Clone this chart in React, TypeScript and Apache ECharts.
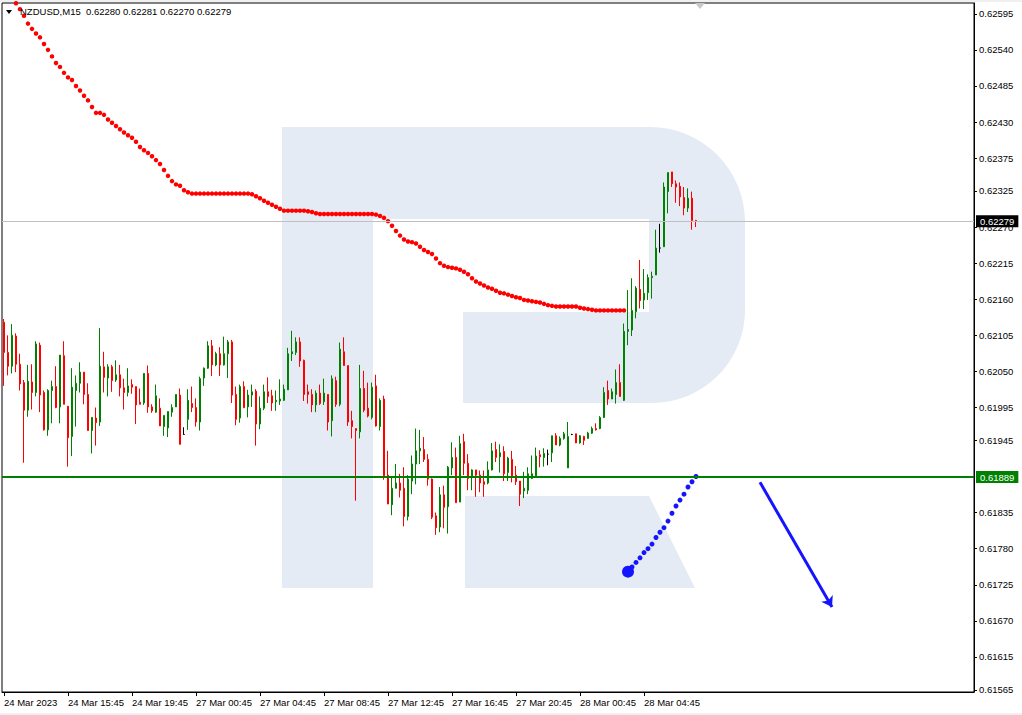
import React, { useEffect, useRef } from 'react';
import * as echarts from 'echarts';

// ---------- data ----------
const symbolName = 'NZDUSD';
const timeframe = 'M15';

// one label every 16 bars (4 hours of M15 bars)
const barsPerLabel = 16;
const xTickLabels = [
  '24 Mar 2023', '24 Mar 15:45', '24 Mar 19:45', '27 Mar 00:45', '27 Mar 04:45',
  '27 Mar 08:45', '27 Mar 12:45', '27 Mar 16:45', '27 Mar 20:45', '28 Mar 00:45', '28 Mar 04:45',
];
const totalSlots = 243; // bar slots visible on the time axis (incl. empty right shift)

const yTicks = [
  0.62595, 0.6254, 0.62485, 0.6243, 0.62375, 0.62325, 0.6227, 0.62215, 0.6216, 0.62105,
  0.6205, 0.61995, 0.61945, 0.61835, 0.6178, 0.61725, 0.6167, 0.61615, 0.61565,
];
const yMin = 0.615616;
const yMax = 0.626114;

const opens = [
  0.62125, 0.62079, 0.62058, 0.62104, 0.62061, 0.62033, 0.61991, 0.62034, 0.62018, 0.6209,
  0.62018, 0.61961, 0.62021, 0.62027, 0.61996, 0.62074, 0.61997, 0.61951, 0.62021, 0.62032,
  0.62049, 0.62015, 0.6196, 0.61979, 0.61973, 0.62057, 0.6204, 0.62057, 0.62037, 0.62045,
  0.62025, 0.62018, 0.6203, 0.62027, 0.62003, 0.62002, 0.62047, 0.61996, 0.61988, 0.61994,
  0.61966, 0.61964, 0.61988, 0.61996, 0.62014, 0.61954, 0.61977, 0.62001, 0.61995, 0.61973,
  0.6204, 0.62055, 0.62089, 0.6206, 0.62077, 0.6206, 0.62077, 0.62095, 0.62015, 0.61979,
  0.62027, 0.61996, 0.62014, 0.6202, 0.6197, 0.61994, 0.62019, 0.62013, 0.62004, 0.62005,
  0.62006, 0.62022, 0.62077, 0.62079, 0.62095, 0.62067, 0.62019, 0.62015, 0.61999, 0.62017,
  0.62004, 0.62015, 0.61975, 0.62036, 0.62, 0.6208, 0.62059, 0.61975, 0.61963, 0.61958,
  0.62024, 0.61994, 0.6198, 0.62028, 0.61966, 0.62008, 0.61892, 0.61847, 0.61872, 0.6188,
  0.61872, 0.61829, 0.61883, 0.61909, 0.61929, 0.61931, 0.61916, 0.61886, 0.6183, 0.61813,
  0.61862, 0.61844, 0.61903, 0.61919, 0.61851, 0.61943, 0.6191, 0.6189, 0.619, 0.61892,
  0.61882, 0.6188, 0.619, 0.61931, 0.6192, 0.61928, 0.61896, 0.61916, 0.61892, 0.61883,
  0.61868, 0.61869, 0.61887, 0.61891, 0.61923, 0.61919, 0.61924, 0.61926, 0.61952, 0.61938,
  0.61948, 0.61903, 0.61954, 0.61955, 0.61941, 0.61951, 0.61948, 0.61956, 0.61963, 0.61963,
  0.6198, 0.62021, 0.62008, 0.62015, 0.62033, 0.62006, 0.62111, 0.62113, 0.62141, 0.62175,
  0.62159, 0.6217, 0.62193, 0.62197, 0.62238, 0.6224, 0.62324, 0.62354, 0.62336, 0.62332,
  0.62315, 0.62299, 0.62314, 0.6228,
];
const closes = [
  0.62079, 0.62058, 0.62105, 0.62061, 0.62031, 0.61991, 0.62035, 0.62018, 0.62092, 0.62014,
  0.61961, 0.62021, 0.62027, 0.61995, 0.62075, 0.62, 0.61949, 0.62026, 0.62032, 0.62049,
  0.62015, 0.6196, 0.6198, 0.61972, 0.62058, 0.62041, 0.62057, 0.62036, 0.62045, 0.62025,
  0.62018, 0.62028, 0.62026, 0.61999, 0.62, 0.62047, 0.61996, 0.6199, 0.62013, 0.61967,
  0.61983, 0.61989, 0.61995, 0.62015, 0.61939, 0.61954, 0.62006, 0.61995, 0.61973, 0.62039,
  0.62055, 0.62089, 0.6206, 0.62077, 0.6206, 0.62077, 0.62095, 0.62014, 0.61977, 0.62027,
  0.61995, 0.62014, 0.62019, 0.6197, 0.61994, 0.62019, 0.62012, 0.62002, 0.62006, 0.62008,
  0.62023, 0.62077, 0.6208, 0.62095, 0.62066, 0.62015, 0.62015, 0.61999, 0.62017, 0.62001,
  0.62017, 0.61973, 0.62039, 0.62, 0.62084, 0.62059, 0.61973, 0.61966, 0.6196, 0.62024,
  0.61991, 0.61982, 0.62026, 0.61967, 0.62006, 0.61891, 0.61848, 0.61872, 0.6188, 0.61869,
  0.61829, 0.61886, 0.61909, 0.61929, 0.61933, 0.61916, 0.61886, 0.61828, 0.61812, 0.61862,
  0.61843, 0.61904, 0.61919, 0.6185, 0.6194, 0.6191, 0.61887, 0.619, 0.61892, 0.6188,
  0.61878, 0.619, 0.61929, 0.61919, 0.61926, 0.61894, 0.61918, 0.61891, 0.61882, 0.61863,
  0.61872, 0.61894, 0.61894, 0.61921, 0.6192, 0.61925, 0.61924, 0.61952, 0.61938, 0.61948,
  0.61955, 0.61951, 0.61954, 0.61941, 0.61952, 0.61945, 0.61956, 0.61963, 0.61961, 0.6198,
  0.62018, 0.62008, 0.62019, 0.62033, 0.62012, 0.62111, 0.62114, 0.62143, 0.62177, 0.62158,
  0.62169, 0.62193, 0.62195, 0.62238, 0.62238, 0.62331, 0.62353, 0.62336, 0.62331, 0.62316,
  0.62299, 0.62314, 0.6228, 0.62279,
];
const lows = [
  0.62028, 0.62044, 0.62047, 0.62049, 0.62021, 0.61911, 0.61981, 0.61992, 0.62012, 0.61988,
  0.6196, 0.61952, 0.61971, 0.61994, 0.61971, 0.62, 0.61905, 0.61921, 0.61966, 0.62018,
  0.62, 0.6196, 0.61925, 0.61937, 0.61967, 0.62018, 0.62012, 0.62019, 0.62034, 0.62012,
  0.61992, 0.62012, 0.62016, 0.6197, 0.62, 0.61999, 0.61987, 0.61987, 0.61987, 0.61967,
  0.61952, 0.6195, 0.61981, 0.61996, 0.61939, 0.61954, 0.61961, 0.61988, 0.61966, 0.6196,
  0.62028, 0.62054, 0.62043, 0.62058, 0.62043, 0.62059, 0.6204, 0.62002, 0.61968, 0.61972,
  0.61994, 0.6198, 0.61996, 0.61937, 0.61962, 0.61991, 0.62002, 0.6199, 0.6199, 0.61999,
  0.62005, 0.62022, 0.62066, 0.62075, 0.62057, 0.62005, 0.62001, 0.61988, 0.61988, 0.61999,
  0.61999, 0.6196, 0.61951, 0.61996, 0.61997, 0.62059, 0.61967, 0.61948, 0.61853, 0.61948,
  0.61988, 0.6198, 0.61977, 0.61966, 0.6196, 0.61885, 0.61848, 0.61831, 0.61872, 0.61858,
  0.61814, 0.61823, 0.61863, 0.61878, 0.61909, 0.61912, 0.61876, 0.61825, 0.61801, 0.61805,
  0.61811, 0.61803, 0.61892, 0.6185, 0.61851, 0.61892, 0.61869, 0.61869, 0.61859, 0.61866,
  0.61859, 0.61878, 0.61899, 0.61912, 0.61896, 0.61883, 0.61883, 0.61881, 0.61877, 0.61845,
  0.61857, 0.61863, 0.61886, 0.6189, 0.61904, 0.61905, 0.61907, 0.61912, 0.61938, 0.61936,
  0.61946, 0.61903, 0.61953, 0.61941, 0.6194, 0.61938, 0.61948, 0.61955, 0.6196, 0.61962,
  0.61979, 0.61999, 0.62008, 0.62001, 0.62012, 0.62005, 0.6209, 0.62104, 0.62131, 0.62146,
  0.62145, 0.62159, 0.62161, 0.62197, 0.62231, 0.6224, 0.62291, 0.62331, 0.62307, 0.62302,
  0.62288, 0.62293, 0.62266, 0.6227,
];
const highs = [
  0.6213, 0.62105, 0.62122, 0.62108, 0.62077, 0.62037, 0.6206, 0.62061, 0.62096, 0.62094,
  0.62021, 0.62023, 0.62036, 0.62058, 0.62075, 0.62096, 0.61997, 0.62055, 0.62044, 0.62064,
  0.62049, 0.62032, 0.6198, 0.61995, 0.62116, 0.6208, 0.62061, 0.6206, 0.62067, 0.6206,
  0.62039, 0.62055, 0.62038, 0.62027, 0.62024, 0.62047, 0.62059, 0.62, 0.6203, 0.62009,
  0.61983, 0.61989, 0.62, 0.62015, 0.62024, 0.61965, 0.62023, 0.62027, 0.62009, 0.62042,
  0.62056, 0.62096, 0.62098, 0.6208, 0.62087, 0.62103, 0.62098, 0.62098, 0.62027, 0.6203,
  0.62035, 0.62022, 0.6203, 0.62023, 0.62012, 0.6203, 0.62041, 0.62022, 0.62021, 0.62038,
  0.6203, 0.62086, 0.62112, 0.62102, 0.62102, 0.62068, 0.6203, 0.62023, 0.62021, 0.6203,
  0.62039, 0.62015, 0.62044, 0.62042, 0.62094, 0.62102, 0.62059, 0.6199, 0.61963, 0.6206,
  0.62051, 0.62033, 0.62033, 0.62045, 0.62009, 0.62013, 0.61929, 0.6189, 0.61909, 0.61894,
  0.61904, 0.61892, 0.61922, 0.61963, 0.61961, 0.6195, 0.61924, 0.61887, 0.61835, 0.61874,
  0.61876, 0.61906, 0.61942, 0.61934, 0.61952, 0.61955, 0.61924, 0.61901, 0.619, 0.61899,
  0.61899, 0.61913, 0.61941, 0.61943, 0.61939, 0.61936, 0.6192, 0.61929, 0.61906, 0.61883,
  0.61897, 0.61904, 0.61922, 0.61934, 0.6193, 0.61933, 0.61931, 0.61952, 0.61956, 0.61951,
  0.61958, 0.61973, 0.61955, 0.61955, 0.61953, 0.61952, 0.61958, 0.61966, 0.61971, 0.61982,
  0.62026, 0.62036, 0.62024, 0.62053, 0.62061, 0.62123, 0.62174, 0.62192, 0.6218, 0.6222,
  0.62206, 0.62198, 0.62202, 0.62266, 0.62275, 0.62338, 0.62353, 0.62354, 0.62341, 0.62338,
  0.62331, 0.62329, 0.62324, 0.62281,
];

// red dotted moving average (ends before the last bars)
const maValues = [
  0.62637, 0.62628, 0.6262, 0.62611, 0.62602, 0.62592, 0.6258, 0.62572, 0.62565, 0.62559,
  0.62549, 0.6254, 0.6253, 0.6252, 0.62514, 0.62505, 0.62498, 0.62494, 0.62485, 0.62478,
  0.6247, 0.62463, 0.62453, 0.62444, 0.62444, 0.62441, 0.62434, 0.62429, 0.62424, 0.62419,
  0.62414, 0.6241, 0.62406, 0.624, 0.62392, 0.62387, 0.62383, 0.62378, 0.62372, 0.62366,
  0.62357, 0.62348, 0.6234, 0.62335, 0.62333, 0.62326, 0.62323, 0.62321, 0.62321, 0.62321,
  0.62321, 0.62321, 0.62321, 0.62321, 0.62321, 0.62321, 0.62321, 0.62321, 0.62321, 0.62321,
  0.62321, 0.62321, 0.6232, 0.62317, 0.62314, 0.6231, 0.62307, 0.62304, 0.62301, 0.62298,
  0.62295, 0.62295, 0.62295, 0.62295, 0.62295, 0.62295, 0.62294, 0.62293, 0.62291, 0.6229,
  0.6229, 0.6229, 0.6229, 0.6229, 0.6229, 0.6229, 0.6229, 0.6229, 0.6229, 0.6229,
  0.6229, 0.6229, 0.6229, 0.62289, 0.62287, 0.62284, 0.62279, 0.62272, 0.62264, 0.62257,
  0.62251, 0.62248, 0.62247, 0.62245, 0.6224, 0.62235, 0.62232, 0.62229, 0.62222, 0.62215,
  0.62211, 0.62209, 0.62208, 0.62207, 0.62205, 0.62202, 0.62198, 0.62192, 0.62187, 0.62184,
  0.62181, 0.62178, 0.62176, 0.62173, 0.6217, 0.62169, 0.62167, 0.62165, 0.62163, 0.62162,
  0.62159, 0.62158, 0.62157, 0.62156, 0.62155, 0.62153, 0.62151, 0.6215, 0.62149, 0.62149,
  0.62149, 0.62149, 0.62149, 0.62149, 0.62147, 0.62146, 0.62145, 0.62144, 0.62143, 0.62143,
  0.62143, 0.62143, 0.62143, 0.62143, 0.62143, 0.62143,
];

// blue dotted projection (starts at bar 156)
const projectionStart = 156;
const projectionValues = [
  0.61745, 0.61752, 0.61759, 0.61766, 0.61774, 0.6178, 0.61787, 0.61797, 0.61805, 0.61812,
  0.61822, 0.61834, 0.61845, 0.61854, 0.61863, 0.61874, 0.61882, 0.6189,
];

// forecast arrow: [bar index, price]
const arrowFrom = [189, 0.61881];
const arrowTo = [207, 0.61691];

const supportLevel = 0.61889;
const bidPrice = 0.62279;

// ---------- decoration ----------
const FONT = "'Liberation Sans', Arial, sans-serif";
const LOGO_COLOR = '#e4ebf4';
const LOGO_PATH =
  'M282 127 L650 127 A95 95 0 0 1 745 222 L745 310 A93 93 0 0 1 652 403 L463 403 L463 312 L649 312 L649 219 L373 219 L373 588 L282 588 Z';

echarts.graphic.registerShape('rlogo', echarts.graphic.extendPath(LOGO_PATH, {}));

const isLabelSlot = (i: number) => i % barsPerLabel === 0 && i / barsPerLabel < xTickLabels.length;

export default function App() {
  const ref = useRef<HTMLDivElement>(null);

  useEffect(() => {
    document.body.style.margin = '0';
    const chart = echarts.init(ref.current!, null, { renderer: 'svg' });

    const categories = Array.from({ length: totalSlots }, (_, i) => String(i));
    const candleData = opens.map((o, i) => [o, closes[i], lows[i], highs[i]]);
    const last = opens.length - 1;
    const header = `${symbolName},${timeframe}  ${opens[last].toFixed(5)} ${highs[last].toFixed(5)} ${lows[last].toFixed(5)} ${closes[last].toFixed(5)}`;

    const projData = projectionValues.map((v, k) => ({
      value: [projectionStart + k, v],
      symbolSize: k === 0 ? 12 : 5,
    }));

    const priceLabel = (bg: string) => ({
      show: true,
      position: 'end',
      distance: 2,
      formatter: (p: any) => Number(p.value).toFixed(5),
      backgroundColor: bg,
      color: '#ffffff',
      padding: [1, 4, 0, 4],
      lineHeight: 11,
      fontSize: 9.5,
      fontFamily: FONT,
    });

    chart.setOption({
      animation: false,
      backgroundColor: '#ffffff',
      title: {
        text: header,
        left: 20,
        top: 6,
        padding: 0,
        textStyle: { fontSize: 9.5, fontWeight: 'normal', color: '#000', fontFamily: FONT },
      },
      grid: {
        left: 2,
        right: 48,
        top: 3,
        bottom: 23,
        show: true,
        borderColor: '#000',
        borderWidth: 1,
        backgroundColor: 'transparent',
      },
      xAxis: {
        type: 'category',
        data: categories,
        boundaryGap: true,
        axisLine: { show: true, lineStyle: { color: '#000', width: 1 } },
        axisTick: {
          show: true,
          alignWithLabel: true,
          length: 4,
          interval: (i: number) => isLabelSlot(i),
          lineStyle: { color: '#000' },
        },
        axisLabel: {
          interval: (i: number) => isLabelSlot(i),
          formatter: (_v: string, i: number) => xTickLabels[i / barsPerLabel] ?? '',
          align: 'left',
          margin: 5,
          color: '#000',
          fontSize: 9.5,
          fontFamily: FONT,
        },
        splitLine: { show: false },
      },
      yAxis: {
        type: 'value',
        position: 'right',
        min: yMin,
        max: yMax,
        scale: true,
        axisLine: { show: true, lineStyle: { color: '#000', width: 1 } },
        axisTick: { show: true, length: 3, customValues: yTicks, lineStyle: { color: '#000' } },
        axisLabel: {
          customValues: yTicks,
          formatter: (v: number) => v.toFixed(5),
          margin: 5,
          color: '#000',
          fontSize: 9.5,
          fontFamily: FONT,
        },
        splitLine: { show: false },
      },
      graphic: [
        { type: 'rect', z: 1, shape: { x: 0, y: 0, width: 1022, height: 2 }, style: { fill: '#f0f0f0' } },
        { type: 'rect', z: 1, shape: { x: 0, y: 713, width: 1022, height: 2 }, style: { fill: '#f0f0f0' } },
        { type: 'rlogo', z: 1, x: 0, y: 0, style: { fill: LOGO_COLOR } },
        {
          type: 'polygon',
          z: 1,
          shape: { points: [[465, 496], [649, 496], [695, 588], [465, 588]] },
          style: { fill: LOGO_COLOR },
        },
        {
          type: 'polygon',
          z: 1,
          shape: { points: [[695, 3], [705, 3], [700, 9]] },
          style: { fill: '#c8c8c8' },
        },
        {
          type: 'polygon',
          z: 10,
          shape: { points: [[6, 10], [12, 10], [9, 14]] },
          style: { fill: '#000' },
        },
      ],
      series: [
        {
          type: 'candlestick',
          name: symbolName,
          data: candleData,
          barWidth: 2,
          silent: true,
          itemStyle: {
            color: '#008000',
            color0: '#ff0000',
            borderColor: '#008000',
            borderColor0: '#ff0000',
            borderColorDoji: '#000000',
            borderWidth: 1,
          },
        },
        {
          type: 'line',
          name: 'MA',
          data: maValues,
          symbol: 'circle',
          symbolSize: 4.5,
          showSymbol: true,
          showAllSymbol: true,
          silent: true,
          z: 3,
          itemStyle: { color: '#ff0000' },
          lineStyle: { width: 0, opacity: 0 },
          markLine: {
            silent: true,
            symbol: ['none', 'none'],
            precision: 5,
            animation: false,
            data: [
              {
                yAxis: supportLevel,
                lineStyle: { color: '#008000', width: 2, type: 'solid' },
                label: priceLabel('#008000'),
              },
              {
                yAxis: bidPrice,
                lineStyle: { color: '#c0c0c0', width: 1, type: 'solid' },
                label: priceLabel('#000000'),
              },
            ],
          },
        },
        {
          type: 'line',
          name: 'projection',
          data: projData,
          symbol: 'circle',
          showSymbol: true,
          showAllSymbol: true,
          silent: true,
          z: 4,
          itemStyle: { color: '#1414ff' },
          lineStyle: { width: 0, opacity: 0 },
          markLine: {
            silent: true,
            symbol: ['none', 'arrow'],
            symbolSize: 10,
            precision: 5,
            animation: false,
            label: { show: false },
            lineStyle: { color: '#1414ff', width: 3, type: 'solid' },
            data: [[{ coord: arrowFrom }, { coord: arrowTo }]],
          },
        },
      ],
    });

    return () => chart.dispose();
  }, []);

  return <div ref={ref} style={{ width: 1022, height: 715 }} />;
}
